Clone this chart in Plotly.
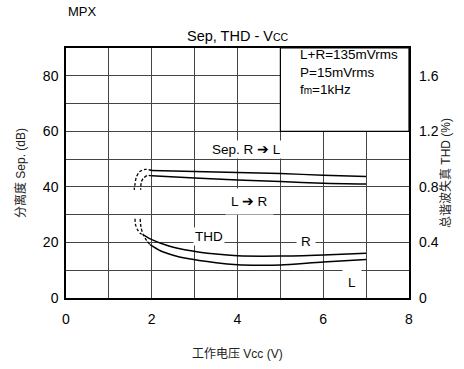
import plotly.graph_objects as go

# Separation curves (left axis, dB)
sep_rl_x = [2.0, 3.0, 4.0, 5.0, 6.0, 7.0]
sep_rl_y = [45.9, 45.5, 45.2, 44.8, 44.2, 43.7]
sep_lr_x = [2.0, 3.0, 4.0, 5.0, 6.0, 7.0]
sep_lr_y = [44.0, 43.2, 42.5, 41.9, 41.3, 41.0]
sep_rl_dash_x = [2.0, 1.85, 1.72, 1.64, 1.61, 1.59]
sep_rl_dash_y = [45.9, 46.3, 45.5, 43.5, 41.0, 38.9]
sep_lr_dash_x = [2.0, 1.9, 1.81, 1.76, 1.74]
sep_lr_dash_y = [44.0, 44.1, 43.2, 41.9, 39.0]

# THD curves (plotted in left-axis units; THD% = value / 50)
thd_r_x = [1.8, 2.0, 2.4, 2.8, 3.5, 4.0, 5.0, 6.0, 7.0]
thd_r_y = [22.7, 21.0, 18.7, 17.3, 15.8, 15.2, 15.1, 15.5, 16.1]
thd_l_x = [1.96, 2.2, 2.5, 2.8, 3.5, 4.0, 4.5, 5.0, 6.0, 7.0]
thd_l_y = [19.2, 17.0, 15.4, 14.3, 12.7, 12.0, 11.8, 11.9, 13.0, 13.9]
thd_r_dash_x = [1.61, 1.62, 1.67, 1.73, 1.8]
thd_r_dash_y = [28.5, 26.5, 24.5, 23.3, 22.7]
thd_l_dash_x = [1.73, 1.75, 1.8, 1.88, 1.96]
thd_l_dash_y = [28.5, 25.5, 22.8, 20.7, 19.2]

x_ticks = [0, 1, 2, 3, 4, 5, 6, 7, 8]
x_labels = ["0", "", "2", "", "4", "", "6", "", "8"]
y_ticks = [0, 10, 20, 30, 40, 50, 60, 70, 80, 90]
y_labels = ["0", "", "20", "", "40", "", "60", "", "80", ""]
y2_ticks = [0, 0.4, 0.8, 1.2, 1.6]
y2_labels = ["0", "0.4", "0.8", "1.2", "1.6"]

FONT = "Liberation Sans, Arial, Noto Sans CJK SC, sans-serif"

fig = go.Figure()
solid = dict(color="black", width=1.5)
dashed = dict(color="black", width=1.3, dash="3px,2px")
for xs, ys, ln in [
    (sep_rl_x, sep_rl_y, solid), (sep_lr_x, sep_lr_y, solid),
    (sep_rl_dash_x, sep_rl_dash_y, dashed), (sep_lr_dash_x, sep_lr_dash_y, dashed),
    (thd_r_x, thd_r_y, solid), (thd_l_x, thd_l_y, solid),
    (thd_r_dash_x, thd_r_dash_y, dashed), (thd_l_dash_x, thd_l_dash_y, dashed),
]:
    fig.add_trace(go.Scatter(x=xs, y=ys, mode="lines", line=dict(shape="spline", smoothing=0.8, **ln),
                             showlegend=False, hoverinfo="skip"))

# dummy trace for right axis
fig.add_trace(go.Scatter(x=[0], y=[0], yaxis="y2", mode="markers", marker=dict(opacity=0),
                         showlegend=False, hoverinfo="skip"))

fig.update_layout(
    width=464, height=369,
    margin=dict(l=66, r=55, t=48, b=71),
    plot_bgcolor="white", paper_bgcolor="white",
    font=dict(family=FONT, size=13, color="black"),
    xaxis=dict(range=[0, 8], tickvals=x_ticks, ticktext=x_labels, showgrid=True,
               gridcolor="#444", gridwidth=1, zeroline=False, showline=True, linecolor="black",
               linewidth=1.5, mirror=True, ticks="", ticklabelstandoff=7, automargin=False,
               tickfont=dict(size=14)),
    yaxis=dict(range=[0, 90], tickvals=y_ticks, ticktext=y_labels, showgrid=True,
               gridcolor="#444", gridwidth=1, zeroline=False, showline=True, linecolor="black",
               linewidth=1.5, mirror=True, ticks="", ticklabelstandoff=3, automargin=False,
               tickfont=dict(size=14)),
    yaxis2=dict(range=[0, 1.8], overlaying="y", side="right", tickvals=y2_ticks,
                ticktext=y2_labels, showgrid=False, zeroline=False, ticks="", automargin=False,
                ticklabelstandoff=9, tickfont=dict(size=14)),
)

# white box for conditions
fig.add_shape(type="rect", xref="x", yref="y", x0=5, x1=8, y0=60, y1=90,
              fillcolor="white", line=dict(color="black", width=1.2), layer="above")

small = "<span style='font-size:10.5px'>CC</span>"
ann = [
    dict(x=0, y=1, xref="paper", yref="paper", xanchor="left", yanchor="bottom", yshift=27,
         text="MPX", showarrow=False, font=dict(size=13)),
    dict(x=0.5, y=1, xref="paper", yref="paper", xanchor="center", yanchor="bottom", yshift=2,
         text="Sep, THD - V" + small, showarrow=False, font=dict(size=14.5)),
    dict(x=5.42, y=81.5, xref="x", yref="y", xanchor="left", yanchor="middle",
         text="L+R=135mVrms<br>P=15mVrms<br>f<span style='font-size:10px'>m</span>=1kHz",
         align="left", showarrow=False, font=dict(size=13.5)),
    dict(x=4.2, y=53.3, xref="x", yref="y", text="Sep. R ➔ L", showarrow=False,
         bgcolor="white", font=dict(size=13.5)),
    dict(x=4.28, y=34.7, xref="x", yref="y", text="L ➔ R", showarrow=False,
         bgcolor="white", font=dict(size=13.5), borderpad=5),
    dict(x=3.33, y=22.0, xref="x", yref="y", text="THD", showarrow=False,
         bgcolor="white", font=dict(size=13.5)),
    dict(x=5.6, y=20.3, xref="x", yref="y", text="R", showarrow=False,
         bgcolor="white", font=dict(size=13.5), borderpad=4),
    dict(x=6.66, y=5.5, xref="x", yref="y", text="L", showarrow=False,
         bgcolor="white", font=dict(size=13.5), borderpad=5),
    dict(x=0.5, y=0, xref="paper", yref="paper", yshift=-56, xanchor="center", yanchor="middle",
         text="工作电压 Vcc (V)", showarrow=False, font=dict(size=12, color="#222")),
    dict(x=0, y=0.5, xref="paper", yref="paper", xshift=-46, textangle=-90,
         xanchor="center", yanchor="middle",
         text="分离度 Sep. (dB)", showarrow=False, font=dict(size=12, color="#222")),
    dict(x=1, y=0.5, xref="paper", yref="paper", xshift=36, textangle=-90,
         xanchor="center", yanchor="middle",
         text="总谐波失真 THD (%)", showarrow=False, font=dict(size=12, color="#222")),
]
fig.update_layout(annotations=ann)

fig.write_html("out.html", config={"displayModeBar": False},
               post_script="document.body.style.margin='0';document.body.style.padding='0';")
